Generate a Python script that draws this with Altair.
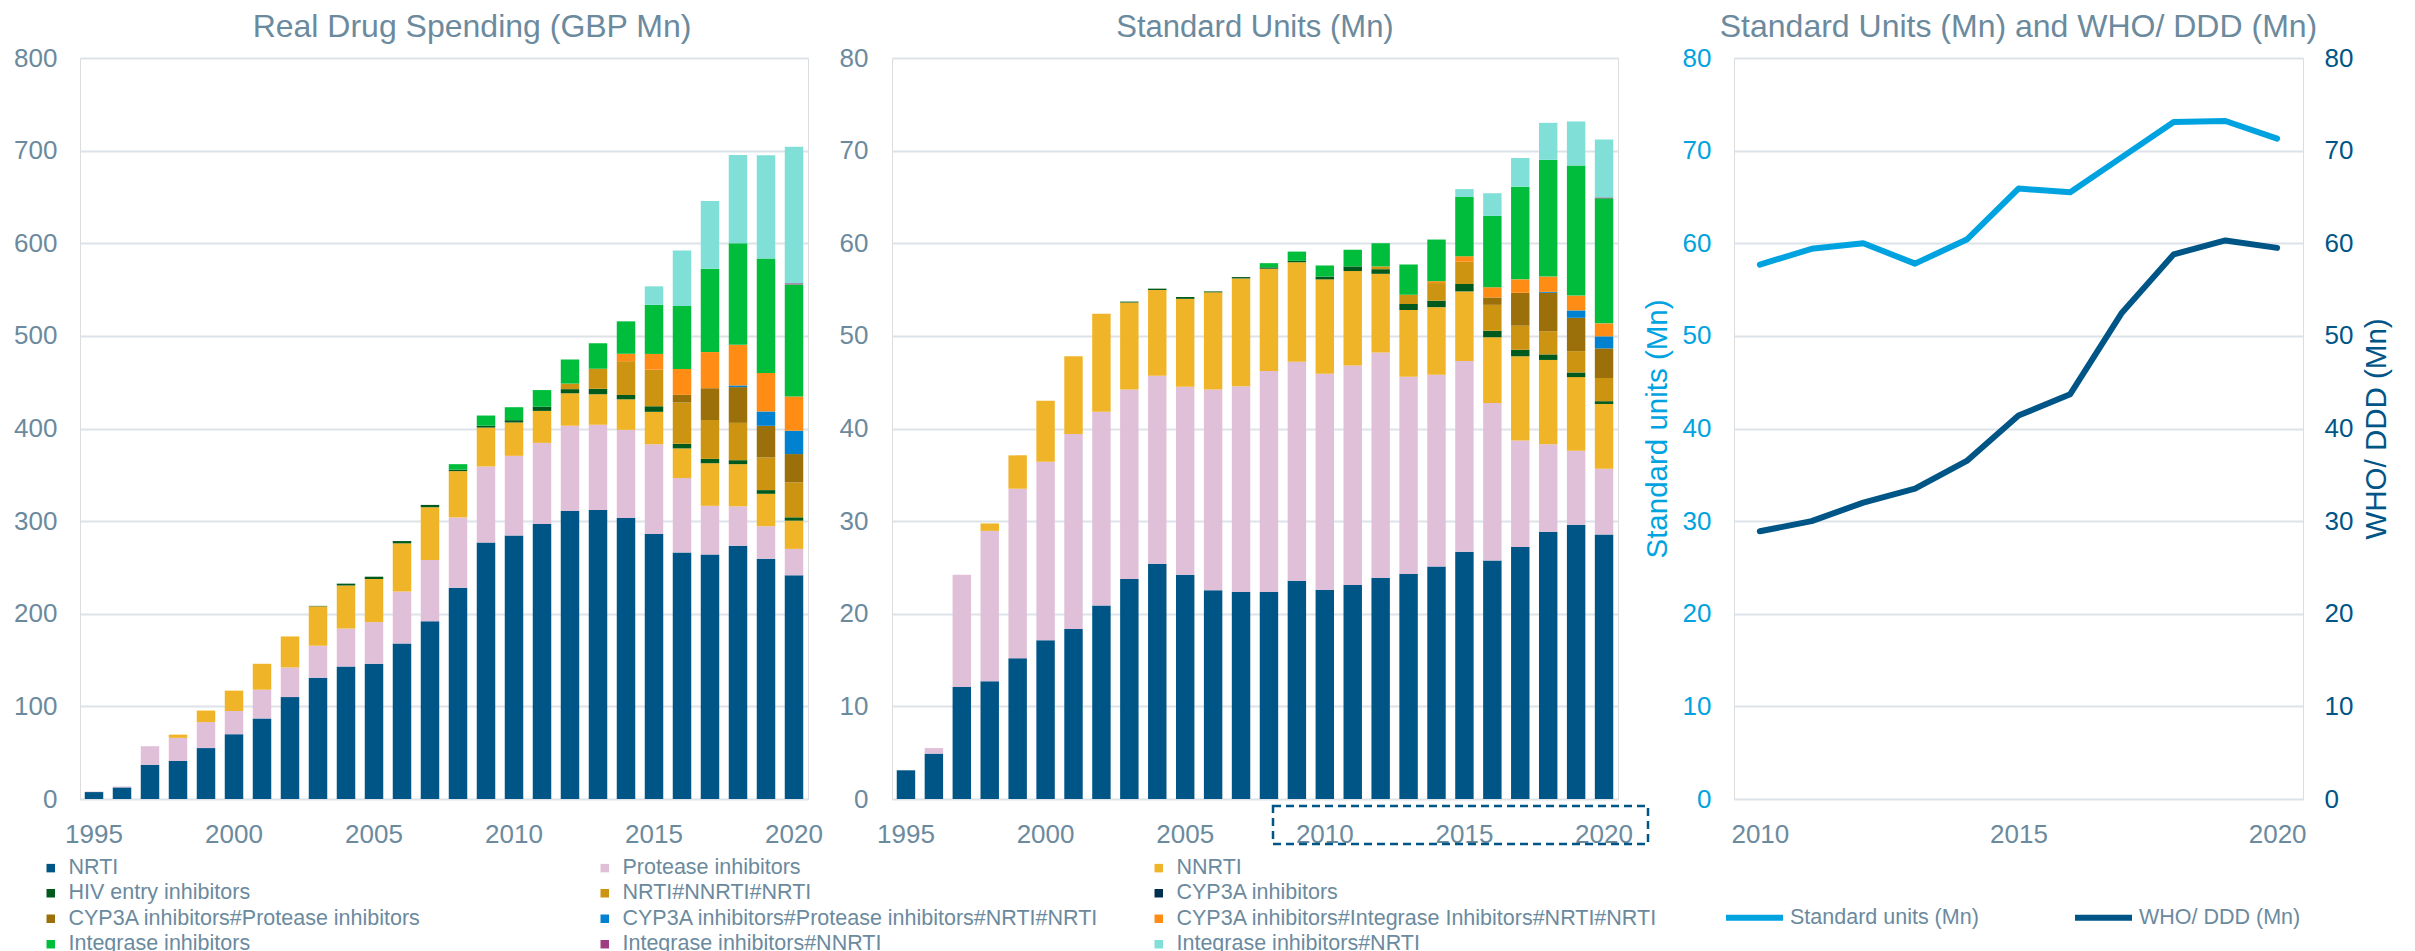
import altair as alt
import pandas as pd

years = list(range(1995, 2021))

categories = [
    "NRTI", "Protease inhibitors", "NNRTI", "HIV entry inhibitors",
    "NRTI#NNRTI#NRTI", "CYP3A inhibitors", "CYP3A inhibitors#Protease inhibitors",
    "CYP3A inhibitors#Protease inhibitors#NRTI#NRTI",
    "CYP3A inhibitors#Integrase Inhibitors#NRTI#NRTI",
    "Integrase inhibitors", "Integrase inhibitors#NNRTI", "Integrase inhibitors#NRTI",
]
colors = ["#005587", "#e0c0d8", "#f0b428", "#005a1e", "#cc9410", "#00304f",
          "#9b700a", "#0082d0", "#ff8c14", "#00be3c", "#a03c82", "#80e0d8"]

# ---- Real drug spending (GBP Mn), 1995..2020 ----
spend_nrti = [7.5, 12.5, 37, 41, 55, 70, 87, 110, 131, 143, 146, 168, 192, 228, 277, 284.5,
              297, 311, 312, 303.5, 286, 266, 264, 273.5, 259.5, 241.5]
spend_pi = [0.5, 1, 20, 25, 28, 25, 31, 32, 34.5, 41, 45, 56, 66, 76, 82, 86,
            87.5, 92, 92, 95, 97, 80.5, 52.5, 42.5, 35, 28.5]
spend_nnrti = [0, 0, 0, 3.5, 12.5, 22, 28, 33.5, 42.5, 46.5, 46.5, 52, 57, 50, 42, 36,
               34.5, 35, 33, 33, 35, 32, 46, 45.5, 35, 30.5]
spend_entry = [0, 0, 0, 0, 0, 0, 0, 0, 0.5, 2, 2.5, 2.5, 2.5, 1.5, 2, 2.5,
               4.5, 4.5, 6, 4.7, 6, 5, 4.7, 4.3, 4, 3.6]
spend_nrti_nnrti = [0] * 17 + [6, 21.5, 36.5, 39.5, 44.5, 42, 40.3, 35.2, 37.7]
spend_cyp3a = [0] * 26
spend_cyp3a_pi = [0] * 21 + [8.3, 34.3, 38.6, 34.2, 30.6]
spend_cyp3a_pi_nrti = [0] * 23 + [1.8, 15.5, 25.2]
spend_cyp3a_ini_nrti = [0] * 19 + [8, 17, 28, 39, 43.8, 41.5, 37]
spend_ini = [0] * 13 + [6, 11, 14, 18, 26, 27.5, 35, 53, 68, 90, 109.6, 123.6, 121]
spend_ini_nnrti = [0] * 25 + [1.2]
spend_ini_nrti = [0] * 20 + [20, 60, 73, 95.4, 111.5, 147.5]

# ---- Standard units (Mn), 1995..2020 ----
su_nrti = [3.1, 4.9, 12.1, 12.7, 15.2, 17.15, 18.35, 20.9, 23.75, 25.4, 24.2, 22.55, 22.35,
           22.35, 23.55, 22.6, 23.1, 23.9, 24.3, 25.1, 26.7, 25.75, 27.2, 28.85, 29.6, 28.55]
su_pi = [0, 0.6, 12.1, 16.25, 18.3, 19.25, 21.05, 20.9, 20.45, 20.3, 20.3, 21.65, 22.2,
         23.85, 23.65, 23.3, 23.7, 24.3, 21.3, 20.7, 20.6, 17.0, 11.5, 9.45, 8.0, 7.1]
su_nnrti = [0, 0, 0, 0.8, 3.6, 6.6, 8.4, 10.6, 9.4, 9.25, 9.5, 10.5, 11.65, 11.05, 10.75,
            10.2, 10.2, 8.5, 7.2, 7.3, 7.5, 7.1, 9.1, 9.1, 7.95, 7.0]
su_entry = [0, 0, 0, 0, 0, 0, 0, 0, 0.1, 0.15, 0.2, 0.1, 0.15, 0.15, 0.15, 0.3, 0.5, 0.5,
            0.65, 0.7, 0.8, 0.7, 0.7, 0.6, 0.5, 0.3]
su_nrti_nnrti = [0] * 17 + [0.3, 1.0, 1.9, 2.4, 2.8, 2.6, 2.5, 2.3, 2.5]
su_cyp3a = [0] * 26
su_cyp3a_pi = [0] * 21 + [0.8, 3.55, 4.15, 3.6, 3.2]
su_cyp3a_pi_nrti = [0] * 23 + [0.1, 0.8, 1.3]
su_cyp3a_ini_nrti = [0] * 19 + [0.2, 0.6, 1.1, 1.45, 1.65, 1.6, 1.4]
su_ini = [0] * 13 + [0.45, 1.0, 1.2, 1.8, 2.5, 3.25, 4.5, 6.4, 7.7, 10.0, 12.6, 14.05, 13.5]
su_ini_nnrti = [0] * 25 + [0.1]
su_ini_nrti = [0] * 20 + [0.85, 2.45, 3.1, 4.0, 4.75, 6.25]

# ---- Standard units vs WHO DDD, 2010..2020 ----
line_years = list(range(2010, 2021))
standard_units = [57.7, 59.4, 60.0, 57.8, 60.4, 65.9, 65.5, 69.3, 73.1, 73.2, 71.3]
who_ddd = [28.9, 30.0, 32.0, 33.5, 36.5, 41.4, 43.7, 52.5, 58.8, 60.3, 59.5]
series_names = ["Standard units (Mn)", "WHO/ DDD (Mn)"]
series_colors = ["#00a3e0", "#005587"]

spend_series = [spend_nrti, spend_pi, spend_nnrti, spend_entry, spend_nrti_nnrti, spend_cyp3a,
                spend_cyp3a_pi, spend_cyp3a_pi_nrti, spend_cyp3a_ini_nrti, spend_ini,
                spend_ini_nnrti, spend_ini_nrti]
su_series = [su_nrti, su_pi, su_nnrti, su_entry, su_nrti_nnrti, su_cyp3a, su_cyp3a_pi,
             su_cyp3a_pi_nrti, su_cyp3a_ini_nrti, su_ini, su_ini_nnrti, su_ini_nrti]


def long_frame(series_list):
    rows = []
    for idx, (cat, vals) in enumerate(zip(categories, series_list)):
        for y, v in zip(years, vals):
            if v > 0:
                rows.append({"year": y, "category": cat, "value": v, "idx": idx})
    return pd.DataFrame(rows)


spend_df = long_frame(spend_series)
su_df = long_frame(su_series)
line_df = pd.DataFrame({
    "year": line_years * 2,
    "value": standard_units + who_ddd,
    "series": [series_names[0]] * len(line_years) + [series_names[1]] * len(line_years),
})

FONT = "Liberation Sans"
GRAY = "#6b8a9e"
GRID = "#dde3e8"
LB, DB = series_colors

color_legend = alt.Legend(
    title=None, orient="none", legendX=-40, legendY=799, columns=3, direction="horizontal",
    symbolType="square", symbolSize=72, symbolStrokeWidth=0, labelFontSize=21.5,
    labelColor=GRAY, labelFont=FONT, labelLimit=700, labelOffset=7, columnPadding=44,
    rowPadding=2.5, gridAlign="all", padding=0,
)
color_enc = alt.Color("category:N", scale=alt.Scale(domain=categories, range=colors),
                      legend=color_legend)

x_years = alt.X("year:O", scale=alt.Scale(paddingInner=0.34, paddingOuter=0.17),
                axis=alt.Axis(values=[1995, 2000, 2005, 2010, 2015, 2020], labelAngle=0, title=None,
                              domain=False, ticks=False, labelPadding=22, labelFontSize=26,
                              labelColor=GRAY, labelFont=FONT, grid=False))


def y_axis(vals, pad):
    return alt.Axis(values=vals, title=None, domain=False, ticks=False, tickSize=0,
                    labelPadding=pad, labelFontSize=26, labelColor=GRAY, labelFont=FONT,
                    gridColor=GRID, gridWidth=2)


def ttl(text, size=31, dx=0):
    return alt.TitleParams(text, fontSize=size, color=GRAY, font=FONT, fontWeight="normal",
                           offset=1, anchor="middle", dx=dx)


left = alt.Chart(spend_df).mark_bar().encode(
    x=x_years,
    y=alt.Y("value:Q", stack="zero", scale=alt.Scale(domain=[0, 800], nice=False),
            axis=y_axis(list(range(0, 801, 100)), 23)),
    color=color_enc,
    order=alt.Order("idx:Q", sort="ascending"),
).properties(width=728, height=741, title=ttl("Real Drug Spending (GBP Mn)", 32, 28))

mid_bars = alt.Chart(su_df).mark_bar().encode(
    x=x_years,
    y=alt.Y("value:Q", stack="zero", scale=alt.Scale(domain=[0, 80], nice=False),
            axis=y_axis(list(range(0, 81, 10)), 24)),
    color=color_enc,
    order=alt.Order("idx:Q", sort="ascending"),
)
mid_box = alt.Chart(pd.DataFrame({"k": [1]})).mark_rect(
    filled=False, stroke=DB, strokeWidth=2.5, strokeDash=[8, 5]
).encode(x=alt.value(381), x2=alt.value(756), y=alt.value(748), y2=alt.value(786))
middle = alt.layer(mid_bars, mid_box).properties(width=726, height=741,
                                                 title=ttl("Standard Units (Mn)"))

stroke_legend = alt.Legend(
    title=None, orient="none", legendX=1643, legendY=828, direction="horizontal",
    symbolType="stroke", symbolSize=3249, symbolStrokeWidth=6, labelFontSize=21.5,
    labelColor=GRAY, labelFont=FONT, labelOffset=4, columnPadding=84, padding=0, labelLimit=400,
)
base = alt.Chart(line_df).encode(
    x=alt.X("year:Q", scale=alt.Scale(domain=[2009.5, 2020.5], nice=False, zero=False),
            axis=alt.Axis(values=[2010, 2015, 2020], format="d", title=None, grid=False,
                          domain=False, ticks=False, labelPadding=22, labelFontSize=26,
                          labelColor=GRAY, labelFont=FONT, labelFlush=False)),
    stroke=alt.Stroke("series:N", scale=alt.Scale(domain=series_names, range=series_colors),
                      legend=stroke_legend),
)
su_line = base.transform_filter(alt.datum.series == series_names[0]).mark_line(
    strokeWidth=6, strokeCap="round", strokeJoin="round"
).encode(
    y=alt.Y("value:Q", scale=alt.Scale(domain=[0, 80], nice=False),
            axis=alt.Axis(orient="left", values=list(range(0, 81, 10)), title=series_names[0],
                          domain=False, ticks=False, tickSize=0, labelPadding=23,
                          labelFontSize=26, labelColor=LB, labelFont=FONT, gridColor=GRID,
                          gridWidth=2, titleColor=LB, titleFontSize=29.5, titleFont=FONT,
                          titleFontWeight="normal", titlePadding=10))
)
ddd_line = base.transform_filter(alt.datum.series == series_names[1]).mark_line(
    strokeWidth=6, strokeCap="round", strokeJoin="round"
).encode(
    y=alt.Y("value:Q", scale=alt.Scale(domain=[0, 80], nice=False),
            axis=alt.Axis(orient="right", values=list(range(0, 81, 10)), title=series_names[1],
                          domain=False, ticks=False, tickSize=0, labelPadding=21,
                          labelFontSize=26, labelColor=DB, labelFont=FONT, grid=False,
                          titleColor=DB, titleFontSize=29.5, titleFont=FONT,
                          titleFontWeight="normal", titleAngle=270, titleBaseline="top",
                          titlePadding=10))
)
right = alt.layer(su_line, ddd_line).resolve_scale(y="independent").properties(
    width=569, height=741, title=ttl("Standard Units (Mn) and WHO/ DDD (Mn)", 32))

bars = alt.hconcat(left, middle, spacing=84, bounds="flush")

chart = alt.hconcat(bars, right, spacing=-9).resolve_scale(
    color="shared", stroke="shared"
).properties(
    padding={"left": 5, "top": 2, "right": 5, "bottom": 0}
).configure_view(stroke=None).configure(font=FONT)

chart.save("out.html", embed_options={"renderer": "svg", "actions": False})
